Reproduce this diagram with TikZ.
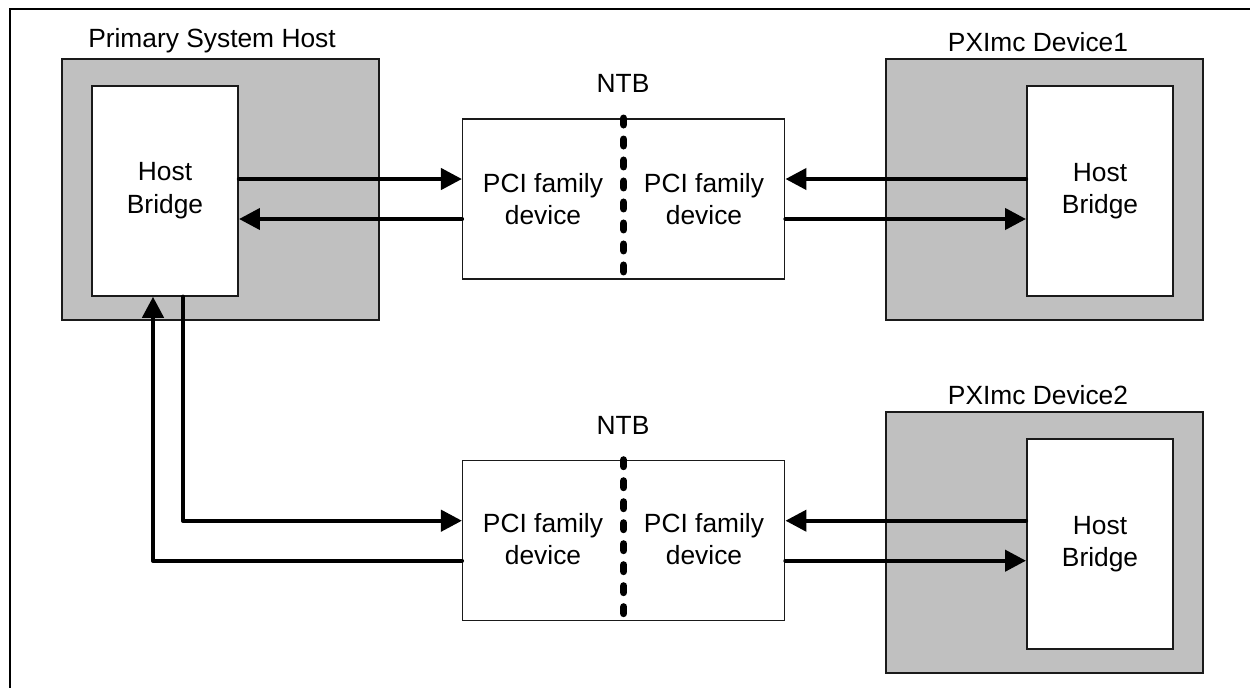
\documentclass[tikz,border=0pt]{standalone}
\usepackage{fontspec}
\setmainfont{Liberation Sans}
\usetikzlibrary{arrows.meta}
\definecolor{hostgray}{HTML}{C0C0C0}
\definecolor{edge}{HTML}{1A1A1A}
\newlength\pxu
\setlength\pxu{0.02cm}
\tikzset{
  hostbox/.style={draw=edge, fill=hostgray, line width=0.04cm, minimum width=317*\pxu, minimum height=261*\pxu, inner sep=0pt},
  bridgebox/.style={draw=edge, fill=white, line width=0.04cm, minimum width=146*\pxu, minimum height=210*\pxu, inner sep=0pt, align=center},
  ntbbox/.style={draw=edge, fill=white, line width=0.03cm, minimum width=322*\pxu, minimum height=160*\pxu, inner sep=0pt},
  lbl/.style={inner sep=0pt, align=center},
  arr/.style={line width=0.085cm, line join=round, line cap=round, -{Triangle[length=0.42cm,width=0.42cm]}},
  divider/.style={line width=4.27pt, line cap=round, dash pattern=on 3.7pt off 8.25pt},
}
\begin{document}
\begin{tikzpicture}[x=0.02cm, y=-0.02cm, font=\fontsize{15}{18.5}\selectfont]
\useasboundingbox (0,0) rectangle (1250,687);

% frame
\draw[line width=0.045cm] (1260,9) -- (10,9) -- (10,697);

% primary system host
\node[hostbox] (hostP) at (220.5,189.5) {};
\node[bridgebox] (hbP) at (165,190.75) {Host\\Bridge};
\node[lbl] (hostPlbl) at (212,41) {Primary System Host};

% PXImc device 1
\node[hostbox] (dev1) at (1044.5,189.5) {};
\node[bridgebox] (hb1) at (1100,191) {Host\\Bridge};
\node[lbl] (dev1lbl) at (1038,42) {PXImc Device1};

% PXImc device 2
\node[hostbox] (dev2) at (1044.5,542.5) {};
\node[bridgebox] (hb2) at (1100,544) {Host\\Bridge};
\node[lbl] (dev2lbl) at (1038,395) {PXImc Device2};

% NTB 1
\node[ntbbox] (ntb1) at (623.7,199) {};
\node[lbl] (ntb1lbl) at (623,83) {NTB};
\node[lbl] (pciL1) at (543,199) {PCI family\\device};
\node[lbl] (pciR1) at (704,199) {PCI family\\device};
\draw[divider] (ntb1.north) -- ([yshift=0.1cm]ntb1.south);

% NTB 2
\node[ntbbox] (ntb2) at (623.7,540.7) {};
\node[lbl] (ntb2lbl) at (623,425) {NTB};
\node[lbl] (pciL2) at (543,539) {PCI family\\device};
\node[lbl] (pciR2) at (704,539) {PCI family\\device};
\draw[divider] (ntb2.north) -- ([yshift=0.1cm]ntb2.south);

% connection points on the NTB sides
\coordinate (a1) at ([yshift=0.4cm]ntb1.west);
\coordinate (a2) at ([yshift=-0.4cm]ntb1.west);
\coordinate (b1) at ([yshift=0.4cm]ntb1.east);
\coordinate (b2) at ([yshift=-0.4cm]ntb1.east);
\coordinate (c1) at ([yshift=0.4cm]ntb2.west);
\coordinate (c2) at ([yshift=-0.4cm]ntb2.west);
\coordinate (d1) at ([yshift=0.4cm]ntb2.east);
\coordinate (d2) at ([yshift=-0.4cm]ntb2.east);

% links
\draw[arr] (hbP.east |- a1) -- (a1);
\draw[arr] (a2) -- (hbP.east |- a2);
\draw[arr] (hb1.west |- b1) -- (b1);
\draw[arr] (b2) -- (hb1.west |- b2);
\draw[arr] (hb2.west |- d1) -- (d1);
\draw[arr] (d2) -- (hb2.west |- d2);
\draw[arr] ([xshift=0.36cm]hbP.south) |- (c1);
\draw[arr] (c2) -| ([xshift=-0.24cm]hbP.south);
\end{tikzpicture}
\end{document}
